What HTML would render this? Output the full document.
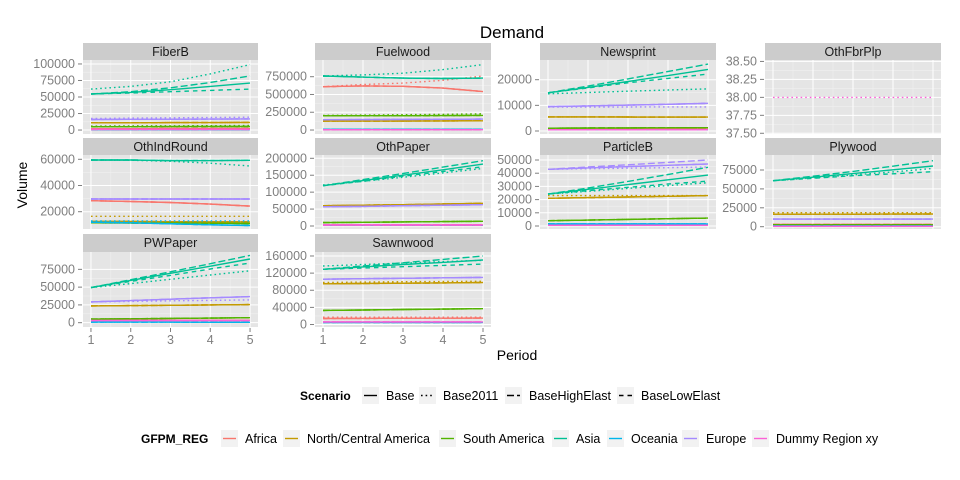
<!DOCTYPE html>
<html><head><meta charset="utf-8">
<style>
html,body{margin:0;padding:0;background:#fff;}
svg{display:block;font-family:"Liberation Sans",sans-serif;}
</style></head>
<body>
<svg id="chart" width="960" height="480" viewBox="0 0 960 480" xmlns="http://www.w3.org/2000/svg">
<text x="512" y="38" font-size="17" text-anchor="middle" fill="#000">Demand</text>
<text x="27" y="185" font-size="14" text-anchor="middle" transform="rotate(-90 27 185)">Volume</text>
<text x="517" y="360" font-size="14" text-anchor="middle">Period</text>
<g id="panels"></g>
<g id="legend"></g>
</svg>
<script>
const periods = [1,2,3,4,5];
const regions = ["Africa","North/Central America","South America","Asia","Oceania","Europe","Dummy Region xy"];
const regionColors = ["#F8766D","#C49A00","#53B400","#00C094","#00B6EB","#A58AFF","#FB61D7"];
const scenarios = ["Base","Base2011","BaseHighElast","BaseLowElast"];
const scenarioDash = ["none","1.6,3","7,3","4.5,4"];

// rows: Africa, NCA, SA, Asia, Oceania, Europe, Dummy (Base scenario)
const fiberB_base = [[2000,2000,2100,2100,2200],[11000,11000,11200,11300,11500],[5000,5100,5200,5300,5400],[54500,57000,61000,66000,71000],[500,500,500,500,500],[16000,16200,16400,16600,16800],[1000,1000,1000,1000,1000]];
const fiberB_alt = [["Base2011",3,[62000,66000,73000,85000,99000]],["BaseHighElast",3,[54500,58000,64000,72000,82000]],["BaseLowElast",3,[54500,56000,58000,60000,62000]],["Base2011",5,[17500,18000,18500,19000,19500]],["Base2011",2,[6000,6200,6400,6600,6800]]];

const fuelwood_base = [[610000,620000,615000,590000,540000],[125000,126000,127000,128000,130000],[200000,201000,202000,203000,205000],[760000,745000,730000,725000,730000],[10000,10000,10000,10000,10000],[145000,147000,149000,151000,153000],[5000,5000,5000,5000,5000]];
const fuelwood_alt = [["Base2011",3,[760000,775000,800000,850000,920000]],["Base2011",0,[610000,640000,660000,700000,760000]],["Base2011",2,[205000,210000,215000,220000,228000]]];

const newsprint_base = [[700,700,700,700,700],[5500,5500,5450,5400,5400],[1100,1150,1200,1250,1300],[14900,17000,19300,21600,24000],[500,500,500,500,500],[9500,9800,10100,10400,10800],[500,500,500,500,500]];
const newsprint_alt = [["Base2011",3,[14500,15000,15500,16000,16400]],["BaseHighElast",3,[14900,17500,20300,23200,26100]],["BaseLowElast",3,[14900,16800,18800,20500,22200]],["Base2011",5,[9300,9300,9350,9400,9400]]];

const othFbrPlp_base = [null,null,null,null,null,null,null];
const othFbrPlp_alt = [["Base2011",6,[38,38,38,38,38]]];

const othIndRound_base = [[28400,27800,27000,25800,24300],[12500,12500,12400,12300,12200],[11500,11400,11300,11200,11000],[59500,59500,59000,59000,59200],[12000,11500,10800,10000,9500],[29700,29700,29700,29700,29700],[null,null,null,null,null]];
const othIndRound_alt = [["Base2011",3,[59500,59300,58500,57000,54900]],["Base2011",1,[16500,16500,16500,16500,16500]],["Base2011",4,[13000,13000,13000,13000,13000]]];

const othPaper_base = [[3000,3000,3000,3000,3000],[60000,61500,63000,65000,67000],[10000,11000,12000,13000,14000],[119000,134000,150000,166000,183000],[2000,2000,2000,2000,2000],[57000,58000,60000,61500,63000],[3000,3000,3000,3000,3000]];
const othPaper_alt = [["BaseHighElast",3,[119000,137000,155000,174000,193000]],["Base2011",3,[121000,132000,144000,157000,170000]],["BaseLowElast",3,[119000,132000,147000,161000,175000]]];

const particleB_base = [[600,600,600,600,600],[21000,21500,22000,22500,23000],[4000,4500,5000,5500,6000],[24200,27800,31400,35000,38600],[1500,1500,1500,1500,1500],[43000,44000,45000,46000,47000],[500,500,500,500,500]];
const particleB_alt = [["BaseHighElast",3,[24200,28800,33800,39000,44500]],["Base2011",3,[24200,26300,28500,30600,32800]],["BaseLowElast",3,[24200,26800,29300,31800,34000]],["BaseHighElast",5,[43000,44700,46400,48200,50000]],["Base2011",5,[43000,43400,43800,44200,44700]],["Base2011",1,[23000,23000,23000,23000,23000]]];

const plywood_base = [[3000,3000,3000,3000,3000],[16500,16500,16600,16700,16800],[2500,2500,2500,2500,2500],[60800,65500,70300,75300,80300],[1000,1000,1000,1000,1000],[10000,10000,10000,10000,10000],[500,500,500,500,500]];
const plywood_alt = [["BaseHighElast",3,[60800,66800,73200,80000,87300]],["BaseLowElast",3,[60800,64000,67500,70000,72800]],["Base2011",3,[60800,64500,68500,72500,77000]],["Base2011",1,[18500,18500,18500,18500,18500]]];

const pwPaper_base = [[3500,3500,3500,3500,3500],[23600,24000,24500,25000,25400],[5000,5500,6000,6500,7000],[49400,59400,69400,79400,89500],[1000,900,800,600,500],[29200,31000,33000,35000,36700],[3000,3000,3000,3000,3000]];
const pwPaper_alt = [["BaseHighElast",3,[49400,60500,71500,83000,94600]],["BaseLowElast",3,[49400,58000,66500,75500,84000]],["Base2011",3,[49400,55000,61000,67000,73000]],["Base2011",5,[29200,30000,30800,31400,32000]]];

const sawnwood_base = [[14000,14200,14500,14700,15000],[95000,95700,96500,97200,98000],[33000,34000,35000,36000,37000],[129000,134500,140000,145000,150700],[5000,5000,5000,5000,5000],[105700,107000,108000,109000,110000],[6000,6000,6000,6000,6000]];
const sawnwood_alt = [["BaseHighElast",3,[129000,136500,144000,152000,160000]],["BaseLowElast",3,[129000,132000,135000,138000,141000]],["Base2011",3,[136700,140000,143500,147000,150000]],["Base2011",1,[98000,99000,100000,100500,101000]],["Base2011",0,[17000,17000,17000,17000,17000]]];

const panelNames = ["FiberB","Fuelwood","Newsprint","OthFbrPlp","OthIndRound","OthPaper","ParticleB","Plywood","PWPaper","Sawnwood"];
const panelBase = [fiberB_base,fuelwood_base,newsprint_base,othFbrPlp_base,othIndRound_base,othPaper_base,particleB_base,plywood_base,pwPaper_base,sawnwood_base];
const panelAlt = [fiberB_alt,fuelwood_alt,newsprint_alt,othFbrPlp_alt,othIndRound_alt,othPaper_alt,particleB_alt,plywood_alt,pwPaper_alt,sawnwood_alt];
const panelTicks = [[0,25000,50000,75000,100000],[0,250000,500000,750000],[0,10000,20000],[37.5,37.75,38,38.25,38.5],[20000,40000,60000],[0,50000,100000,150000,200000],[0,10000,20000,30000,40000,50000],[0,25000,50000,75000],[0,25000,50000,75000],[0,40000,80000,120000,160000]];
const panelTickLabels = [["0","25000","50000","75000","100000"],["0","250000","500000","750000"],["0","10000","20000"],["37.50","37.75","38.00","38.25","38.50"],["20000","40000","60000"],["0","50000","100000","150000","200000"],["0","10000","20000","30000","40000","50000"],["0","25000","50000","75000"],["0","25000","50000","75000"],["0","40000","80000","120000","160000"]];
const panelDomain = [[-6000,106000],[-56000,985000],[-1170,27680],[37.49,38.52],[6800,63280],[-8860,209750],[-2270,53800],[-3040,94840],[-6070,99400],[-5800,169300]];

const colX = [[83,258],[315,491],[540,716],[765,941]];
const rowY = [[43,60,134],[138,155,229],[234,252,327]];
const NS = "http://www.w3.org/2000/svg";
function mk(tag, attrs, parent){const e=document.createElementNS(NS,tag);for(const k in attrs)e.setAttribute(k,attrs[k]);parent.appendChild(e);return e;}

const root = document.getElementById("panels");
panelNames.forEach((name, i) => {
  const c = i % 4, r = Math.floor(i / 4);
  const [x0, x1] = colX[c];
  const [sTop, pTop, pBot] = rowY[r];
  const [lo, hi] = panelDomain[i];
  const xS = p => x0 + (p - 0.8) / 4.4 * (x1 - x0);
  const yS = v => pBot - (v - lo) / (hi - lo) * (pBot - pTop);
  const g = mk("g", {}, root);
  
  
  const strip = mk("rect", {x:x0, y:sTop, width:x1-x0, height:pTop-sTop, fill:"#CCCCCC"}, g);
  
  
  const st = mk("text", {x:(x0+x1)/2, y:sTop+13, "font-size":12.5, "text-anchor":"middle", fill:"#1a1a1a"}, g);
  st.textContent = name;
  
  
  const bg = mk("rect", {x:x0, y:pTop, width:x1-x0, height:pBot-pTop, fill:"#E5E5E5"}, g);
  
  
  const ticks = panelTicks[i];
  for (let k = 0; k < ticks.length - 1; k++) {
    const m = (ticks[k] + ticks[k+1]) / 2;
    mk("line", {x1:x0, x2:x1, y1:yS(m), y2:yS(m), stroke:"#F2F2F2", "stroke-width":0.5}, g);
  }
  for (let p = 1.5; p < 5; p += 1) mk("line", {x1:xS(p), x2:xS(p), y1:pTop, y2:pBot, stroke:"#F2F2F2", "stroke-width":0.5}, g);
  periods.forEach(p => mk("line", {x1:xS(p), x2:xS(p), y1:pTop, y2:pBot, stroke:"#FFFFFF", "stroke-width":1}, g));
  ticks.forEach((t, k) => {
    const y = yS(t);
    mk("line", {x1:x0, x2:x1, y1:y, y2:y, stroke:"#FFFFFF", "stroke-width":1}, g);
    mk("line", {x1:x0-5, x2:x0-1, y1:y, y2:y, stroke:"#7F7F7F", "stroke-width":1}, g);
    const tl = mk("text", {x:x0-8, y:y+4, "font-size":12.5, "text-anchor":"end", fill:"#7F7F7F"}, g);
    tl.textContent = panelTickLabels[i][k];
    
    
  });
  if (r === 2) {
    periods.forEach(p => {
      mk("line", {x1:xS(p), x2:xS(p), y1:pBot+1, y2:pBot+5, stroke:"#7F7F7F", "stroke-width":1}, g);
      const xl = mk("text", {x:xS(p), y:pBot+17, "font-size":12.5, "text-anchor":"middle", fill:"#7F7F7F"}, g);
      xl.textContent = String(p);
      
      
    });
  }
  const clip = "clip" + i;
  const cp = mk("clipPath", {id:clip}, g);
  mk("rect", {x:x0, y:pTop, width:x1-x0, height:pBot-pTop}, cp);
  const lg = mk("g", {"clip-path":"url(#"+clip+")"}, g);
  const drawLine = (vals, reg, sc) => {
    const d = vals.map((v, k) => (k ? "L" : "M") + xS(periods[k]).toFixed(1) + "," + yS(v).toFixed(1)).join("");
    const attrs = {d:d, fill:"none", stroke:regionColors[reg], "stroke-width":1.4};
    if (scenarioDash[sc] !== "none") attrs["stroke-dasharray"] = scenarioDash[sc];
    const pth = mk("path", attrs, lg);
    
    
  };
  const alt = panelAlt[i];
  panelBase[i].forEach((vals, reg) => {
    if (!vals || vals[0] === null) return;
    scenarios.forEach((s, sc) => {
      const ov = alt.find(a => a[0] === s && a[1] === reg);
      drawLine(ov ? ov[2] : vals, reg, sc);
    });
  });
  alt.forEach(a => {
    const reg = a[1];
    if (!panelBase[i][reg] || panelBase[i][reg][0] === null) drawLine(a[2], reg, scenarios.indexOf(a[0]));
  });
});

const leg = document.getElementById("legend");
const t1 = mk("text", {x:300, y:400, "font-size":12, "font-weight":"bold"}, leg);
t1.textContent = "Scenario";


const scenKeyX = [362, 419, 505, 617];
scenarios.forEach((s, k) => {
  const x = scenKeyX[k];
  const g = mk("g", {}, leg);
  
  
  mk("rect", {x:x, y:387, width:17, height:17, fill:"#F2F2F2"}, g);
  const la = {x1:x+2, x2:x+15, y1:395.5, y2:395.5, stroke:"#000", "stroke-width":1.4};
  if (scenarioDash[k] !== "none") la["stroke-dasharray"] = scenarioDash[k];
  mk("line", la, g);
  const tx = mk("text", {x:x+24, y:400, "font-size":12.5}, g);
  tx.textContent = s;
});
const t2 = mk("text", {x:141, y:443, "font-size":12, "font-weight":"bold"}, leg);
t2.textContent = "GFPM_REG";


const regKeyX = [221, 283, 439, 552, 607, 682, 752];
regions.forEach((rname, k) => {
  const x = regKeyX[k];
  const g = mk("g", {}, leg);
  
  
  mk("rect", {x:x, y:430, width:17, height:17, fill:"#F2F2F2"}, g);
  mk("line", {x1:x+2, x2:x+15, y1:438.5, y2:438.5, stroke:regionColors[k], "stroke-width":1.4}, g);
  const tx = mk("text", {x:x+24, y:443, "font-size":12.5}, g);
  tx.textContent = rname;
});
</script>
</body></html>
